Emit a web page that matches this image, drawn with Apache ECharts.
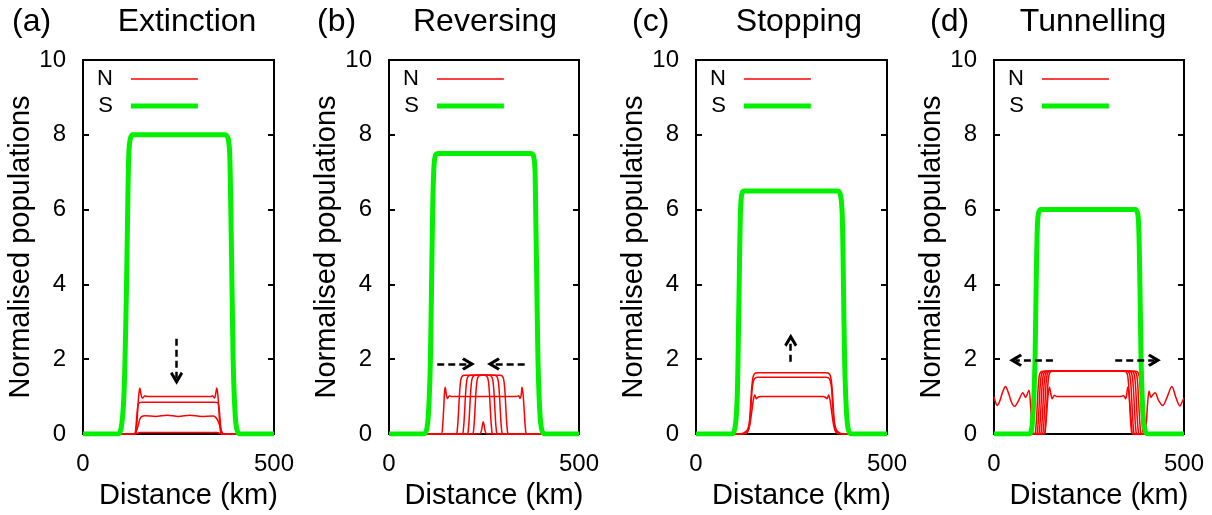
<!DOCTYPE html>
<html>
<head>
<meta charset="utf-8">
<script src="https://cdn.jsdelivr.net/npm/echarts@6/dist/echarts.min.js"></script>
<style>
html, body { margin: 0; padding: 0; background: #fff; }
#main { width: 1212px; height: 515px; }
</style>
</head>
<body>
<div id="main"></div>
<script>
// panel names
var tags = ['(a)', '(b)', '(c)', '(d)'];
var titles = ['Extinction', 'Reversing', 'Stopping', 'Tunnelling'];

// axes
var xRange = [0, 500];
var yRange = [0, 10];
var yStep = 2;

// (a) Extinction
var sA = [[0,0],[90,0],[97,0.05],[102,0.3],[107,1],[110,2],[114,4],[117,6],[120,7.5],[124,7.9],[131,8],[372,8],[380,7.9],[384,7.5],[387,6],[390,4],[393,2],[396,1],[400,0.3],[405,0.05],[412,0],[500,0]];
var nA1 = [[0,0],[136,0],[140,0.15],[143,0.6],[146,1.05],[149,1.23],[152,1.05],[156,0.96],[162,1.02],[168,1.0],[334,1.0],[339,1.02],[344,0.96],[347,1.05],[350,1.23],[353,1.05],[356,0.6],[359,0.15],[363,0],[500,0]];
var nA2 = [[0,0],[134,0],[138,0.15],[141,0.5],[144,0.78],[148,0.84],[156,0.85],[344,0.85],[352,0.84],[355,0.78],[358,0.5],[361,0.15],[365,0],[500,0]];
var nA3 = [[0,0],[134,0],[140,0.08],[145,0.25],[149,0.4],[154,0.47],[162,0.49],[190,0.47],[220,0.5],[250,0.47],[280,0.5],[310,0.47],[340,0.48],[346,0.46],[352,0.38],[357,0.25],[362,0.1],[368,0],[500,0]];
var nA4 = [[0,0],[135,0],[150,0.04],[350,0.04],[365,0],[500,0]];
var arrowsA = [[245,2.55,245,1.49]];

// (b) Reversing
var sB = [[0,0],[90,0],[97,0.05],[102,0.3],[106,1],[109,2],[112,4],[115,6],[118,7.1],[122,7.45],[129,7.5],[373,7.5],[380,7.45],[384,7.1],[386,6],[389,4],[392,2],[395,1],[399,0.3],[404,0.05],[411,0],[500,0]];
var nB1 = [[0,0],[137,0],[141,0.2],[144,0.7],[146,1.1],[148,1.25],[151,1.05],[154,0.95],[159,1.02],[165,1.0],[335,1.0],[341,1.02],[345,0.95],[348,1.05],[350,1.25],[353,1.05],[356,0.6],[359,0.15],[363,0],[500,0]];
var nB2 = [[0,0],[176,0],[180,0.15],[183,0.6],[186,1.15],[189,1.45],[193,1.55],[199,1.57],[292,1.57],[298,1.55],[302,1.45],[305,1.15],[308,0.6],[311,0.15],[315,0],[500,0]];
var nB3 = [[0,0],[192,0],[196,0.15],[199,0.6],[202,1.15],[205,1.45],[209,1.55],[215,1.57],[277,1.57],[283,1.55],[287,1.45],[290,1.15],[293,0.6],[296,0.15],[300,0],[500,0]];
var nB4 = [[0,0],[205,0],[209,0.15],[212,0.6],[215,1.15],[218,1.45],[222,1.55],[228,1.57],[263,1.57],[269,1.55],[273,1.45],[276,1.15],[279,0.6],[282,0.15],[286,0],[500,0]];
var nB5 = [[0,0],[219,0],[223,0.15],[226,0.6],[229,1.15],[232,1.45],[236,1.55],[242,1.57],[251,1.57],[257,1.55],[261,1.45],[264,1.15],[267,0.6],[270,0.15],[274,0],[500,0]];
var nB6 = [[0,0],[238,0],[243,0.08],[246,0.25],[248,0.33],[250,0.25],[253,0.08],[258,0],[500,0]];
var arrowsB = [[127,1.87,209,1.87],[357,1.87,275,1.87]];

// (c) Stopping
var sC = [[0,0],[92,0],[99,0.05],[104,0.3],[108,1],[110,2],[113,4],[116,5.8],[119,6.35],[125,6.5],[372,6.5],[379,6.35],[383,5.8],[386,4],[389,2],[392,1],[396,0.3],[401,0.05],[408,0],[500,0]];
var nC1 = [[0,0],[112,0],[125,0.03],[135,0.12],[140,0.35],[143,0.8],[146,1.25],[150,1.55],[156,1.63],[164,1.64],[338,1.64],[346,1.63],[352,1.55],[356,1.25],[359,0.8],[362,0.35],[367,0.12],[376,0.03],[386,0],[500,0]];
var nC2 = [[0,0],[118,0],[130,0.03],[138,0.15],[142,0.45],[145,0.9],[148,1.3],[153,1.48],[162,1.52],[340,1.52],[349,1.48],[354,1.3],[357,0.9],[360,0.45],[364,0.15],[372,0.03],[382,0],[500,0]];
var nC3 = [[0,0],[125,0],[135,0.05],[141,0.25],[146,0.6],[150,0.9],[154,1.04],[158,0.94],[163,0.99],[170,1.0],[332,1.0],[338,0.99],[343,0.94],[347,1.04],[351,0.9],[355,0.6],[360,0.25],[366,0.05],[376,0],[500,0]];
var arrowsC = [[248,1.93,248,2.51]];

// (d) Tunnelling
var sD = [[0,0],[90,0],[97,0.05],[101,0.3],[105,1],[108,2],[111,4],[114,5.5],[117,5.9],[124,6],[371,6],[378,5.9],[381,5.5],[384,4],[387,2],[390,1],[394,0.3],[399,0.05],[406,0],[500,0]];
var nD1 = [[0,0],[106,0],[110,0.15],[113,0.6],[116,1.2],[119,1.55],[123,1.66],[130,1.68],[371,1.68],[378,1.66],[382,1.55],[385,1.2],[388,0.6],[391,0.15],[395,0],[500,0]];
var nD2 = [[0,0],[111,0],[115,0.15],[118,0.6],[121,1.2],[124,1.55],[128,1.66],[135,1.68],[365,1.68],[372,1.66],[376,1.55],[379,1.2],[382,0.6],[385,0.15],[389,0],[500,0]];
var nD3 = [[0,0],[116,0],[120,0.15],[123,0.6],[126,1.2],[129,1.55],[133,1.66],[140,1.68],[359,1.68],[366,1.66],[370,1.55],[373,1.2],[376,0.6],[379,0.15],[383,0],[500,0]];
var nD4 = [[0,0],[121,0],[125,0.15],[128,0.6],[131,1.2],[134,1.55],[138,1.66],[145,1.68],[353,1.68],[360,1.66],[364,1.55],[367,1.2],[370,0.6],[373,0.15],[377,0],[500,0]];
var nD5 = [[0,0],[126,0],[130,0.15],[133,0.6],[136,1.2],[139,1.55],[143,1.66],[150,1.68],[347,1.68],[354,1.66],[358,1.55],[361,1.2],[364,0.6],[367,0.15],[371,0],[500,0]];
var nD6 = [[0,0],[131,0],[135,0.15],[138,0.6],[141,1.2],[144,1.55],[148,1.66],[155,1.68],[341,1.68],[348,1.66],[352,1.55],[355,1.2],[358,0.6],[361,0.15],[365,0],[500,0]];
var nD7 = [[0,1.0],[4,0.85],[8,0.76],[14,0.85],[22,1.1],[30,1.27],[38,1.1],[46,0.85],[54,0.74],[64,0.88],[76,1.1],[83,0.98],[92,1.17],[96,0.8],[99,0.3],[102,0.05],[106,0],[132,0],[136,0.25],[140,0.75],[143,1.1],[146,1.25],[150,1.05],[153,0.94],[159,1.03],[166,1.0],[334,1.0],[341,1.03],[346,0.94],[349,1.05],[352,1.25],[355,1.1],[358,0.75],[362,0.25],[366,0],[395,0],[398,0.05],[401,0.3],[404,0.8],[408,1.15],[413,0.98],[418,1.05],[424,1.1],[433,0.9],[444,0.76],[456,1.0],[468,1.27],[479,0.97],[489,0.75],[497,0.9],[500,0.97]];
var arrowsD = [[155,1.97,57,1.97],[319,1.97,422,1.97]];

var nSets = [[nA1, nA2, nA3, nA4], [nB1, nB2, nB3, nB4, nB5, nB6], [nC1, nC2, nC3], [nD1, nD2, nD3, nD4, nD5, nD6, nD7]];
var sSets = [sA, sB, sC, sD];
var arrowSets = [arrowsA, arrowsB, arrowsC, arrowsD];

// layout
var gridLeft = [83, 389, 696, 994];
var gridWidth = [191, 190, 191, 190];
var titleX = [182, 480, 794, 1088];
var tagX = [7, 312, 627, 925];
var font = 'Liberation Sans, Arial, Helvetica, sans-serif';
var chevron = 'path://M0,11 L10,0 L20,11 L16.5,13 L10,6 L3.5,13 Z';
var thinBar = 'path://M0,0 H67 V1.6 H0 Z';
var thickBar = 'path://M0,0 H67 V5 H0 Z';

var chart = echarts.init(document.getElementById('main'));

var title = [], grid = [], xAxis = [], yAxis = [], legend = [], series = [];

for (var i = 0; i < 4; i++) {
	title.push({
		text: tags[i], left: tagX[i], top: 1,
		textStyle: { fontSize: 32, fontWeight: 'normal', color: '#000', fontFamily: font }
	});
	title.push({
		text: titles[i], left: titleX[i], top: 1, textAlign: 'center',
		textStyle: { fontSize: 32, fontWeight: 'normal', color: '#000', fontFamily: font }
	});
	grid.push({
		left: gridLeft[i], width: gridWidth[i], top: 60, height: 380,
		show: true, borderColor: '#000', borderWidth: 2, containLabel: false
	});
	xAxis.push({
		gridIndex: i, type: 'value', min: xRange[0], max: xRange[1], interval: xRange[1] - xRange[0],
		axisLine: { show: true, lineStyle: { color: '#000', width: 2 } },
		axisTick: { show: false },
		splitLine: { show: false },
		axisLabel: { fontSize: 24, color: '#000', margin: 18, fontFamily: font, showMinLabel: true, showMaxLabel: true },
		name: 'Distance (km)', nameLocation: 'middle', nameGap: 47,
		nameTextStyle: { fontSize: 29, color: '#000', fontFamily: font, padding: [0, 0, 0, 20] }
	});
	yAxis.push({
		gridIndex: i, type: 'value', min: yRange[0], max: yRange[1], interval: yStep,
		axisLine: { show: true, lineStyle: { color: '#000', width: 2 } },
		axisTick: { show: true, inside: true, length: 6, lineStyle: { color: '#000', width: 2 } },
		splitLine: { show: false },
		axisLabel: { fontSize: 24, color: '#000', margin: 17, fontFamily: font },
		name: 'Normalised populations', nameLocation: 'middle', nameGap: 42, nameRotate: 90,
		nameTextStyle: { fontSize: 29, color: '#000', fontFamily: font }
	});
	yAxis.push({
		gridIndex: i, type: 'value', position: 'right', min: yRange[0], max: yRange[1], interval: yStep,
		axisLine: { show: false },
		axisTick: { show: true, inside: true, length: 6, lineStyle: { color: '#000', width: 2 } },
		splitLine: { show: false },
		axisLabel: { show: false }
	});
	legend.push({
		left: gridLeft[i] + 9, top: 63, orient: 'vertical', align: 'right',
		itemWidth: 67, itemHeight: 14, itemGap: 5, selectedMode: false,
		itemStyle: { borderWidth: 0 },
		data: [{ name: 'N', icon: thinBar }, { name: 'S', icon: thickBar }],
		textStyle: { fontSize: 22, lineHeight: 20, color: '#000', fontFamily: font, padding: [0, 13, 0, 0] }
	});

	nSets[i].forEach(function (curve) {
		series.push({
			name: 'N', type: 'line', xAxisIndex: i, yAxisIndex: i * 2,
			data: curve, symbol: 'none', smooth: 0.3,
			lineStyle: { color: '#ff0000', width: 1.5 }, itemStyle: { color: '#ff0000' },
			silent: true
		});
	});

	var marks = arrowSets[i].map(function (a) {
		return [{ coord: [a[0], a[1]] }, { coord: [a[2], a[3]] }];
	});
	series.push({
		name: 'S', type: 'line', xAxisIndex: i, yAxisIndex: i * 2,
		data: sSets[i], symbol: 'none', smooth: 0.3,
		lineStyle: { color: '#00f000', width: 5 }, itemStyle: { color: '#00f000' },
		silent: true,
		markLine: {
			silent: true, animation: false,
			symbol: ['none', chevron], symbolSize: [13, 13],
			label: { show: false },
			lineStyle: { color: '#000', width: 2.5, type: [7, 4] },
			data: marks
		}
	});
}

chart.setOption({
	animation: false,
	backgroundColor: '#fff',
	title: title,
	grid: grid,
	xAxis: xAxis,
	yAxis: yAxis,
	legend: legend,
	series: series
});
</script>
</body>
</html>
